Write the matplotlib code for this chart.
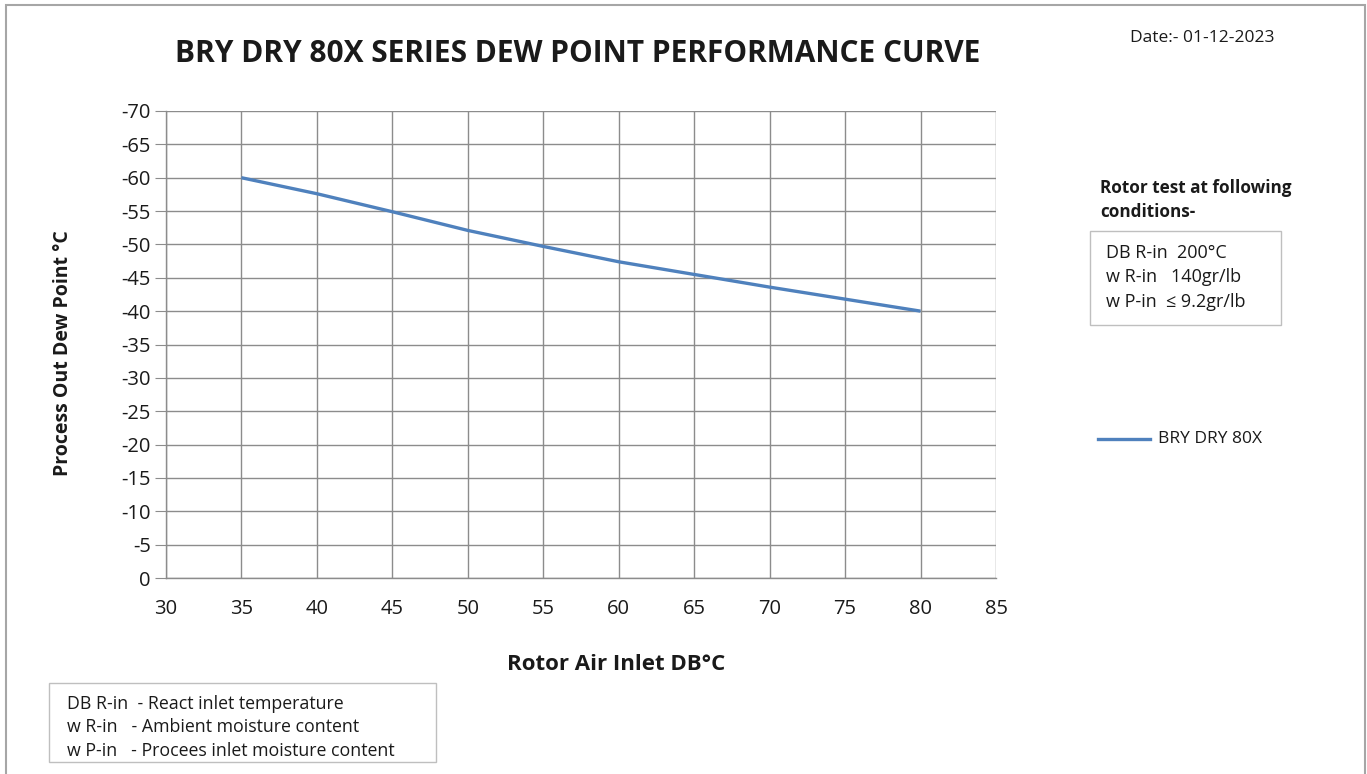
import matplotlib.pyplot as plt
from matplotlib.patches import Rectangle

# Data
inlet_temp = [35, 40, 45, 50, 55, 60, 65, 70, 75, 80]
dew_point = [-60, -57.6, -54.9, -52.1, -49.7, -47.4, -45.5, -43.6, -41.8, -40]
x_ticks = [30, 35, 40, 45, 50, 55, 60, 65, 70, 75, 80, 85]
y_ticks = [0, -5, -10, -15, -20, -25, -30, -35, -40, -45, -50, -55, -60, -65, -70]

plt.rcParams['font.family'] = ['Open Sans', 'DejaVu Sans']
plt.rcParams['axes.unicode_minus'] = False
plt.rcParams['text.color'] = '#1a1a1a'
plt.rcParams['xtick.labelcolor'] = '#1a1a1a'
plt.rcParams['ytick.labelcolor'] = '#1a1a1a'

W, H = 1367, 774
fig = plt.figure(figsize=(W / 100, H / 100), dpi=100)

# outer chart border
fig.patches.append(Rectangle((6 / W, -0.01), (1365 - 6) / W, 1 - 5 / H + 0.01,
                             transform=fig.transFigure, fill=False,
                             edgecolor='#a6a6a6', linewidth=1.5))

ax = fig.add_axes([166 / W, 1 - 578 / H, (996 - 166) / W, (578 - 111) / H])
ax.plot(inlet_temp, dew_point, color='#4f81bd', linewidth=2.4, label='BRY DRY 80X',
        solid_capstyle='butt')
ax.set_xlim(30, 85)
ax.set_ylim(0, -70)
ax.set_xticks(x_ticks)
ax.set_yticks(y_ticks)
ax.grid(True, color='#8c8c8c', linewidth=1.0)
ax.set_axisbelow(True)
for s in ['top', 'right']:
    ax.spines[s].set_visible(False)
for s in ['left', 'bottom']:
    ax.spines[s].set_color('#8c8c8c')
    ax.spines[s].set_linewidth(1.0)
ax.tick_params(axis='y', length=8, color='#8c8c8c', labelsize=14.5, pad=3)
ax.tick_params(axis='x', length=0, labelsize=14.5, pad=15)

fig.text(616 / W, 1 - 665 / H, 'Rotor Air Inlet DB°C', ha='center', va='center',
         fontsize=16, fontweight='bold')
fig.text(63 / W, 1 - 353 / H, 'Process Out Dew Point °C', ha='center', va='center',
         rotation=90, fontsize=14, fontweight='bold')

fig.text(578 / W, 1 - 54 / H, 'BRY DRY 80X SERIES DEW POINT PERFORMANCE CURVE',
         ha='center', va='center', fontsize=21.5, fontweight='bold')
fig.text(1202 / W, 1 - 38 / H, 'Date:- 01-12-2023', ha='center', va='center', fontsize=12.5)

# test conditions
fig.text(1100 / W, 1 - 188 / H, 'Rotor test at following', ha='left', va='center',
         fontsize=12.3, fontweight='bold')
fig.text(1100 / W, 1 - 212 / H, 'conditions-', ha='left', va='center',
         fontsize=12.3, fontweight='bold')
fig.patches.append(Rectangle((1090 / W, 1 - 325 / H), (1281 - 1090) / W, (325 - 231) / H,
                             transform=fig.transFigure, fill=False,
                             edgecolor='#bfbfbf', linewidth=1.0))
cond_lines = ['DB R-in  200°C', 'w R-in   140gr/lb', 'w P-in  ≤ 9.2gr/lb']
for i, t in enumerate(cond_lines):
    fig.text(1106 / W, 1 - (253 + 24.5 * i) / H, t, ha='left', va='center', fontsize=13)

# legend
fig.add_artist(plt.Line2D([1098 / W, 1150 / W], [1 - 439 / H, 1 - 439 / H],
                          color='#4f81bd', linewidth=2.4, transform=fig.transFigure))
fig.text(1158 / W, 1 - 439 / H, 'BRY DRY 80X', ha='left', va='center', fontsize=12.5)

# abbreviation box
fig.patches.append(Rectangle((49 / W, 1 - 762 / H), (436 - 49) / W, (762 - 683) / H,
                             transform=fig.transFigure, fill=False,
                             edgecolor='#bfbfbf', linewidth=1.0))
abbr_lines = ['DB R-in  - React inlet temperature',
              'w R-in   - Ambient moisture content',
              'w P-in   - Procees inlet moisture content']
for i, t in enumerate(abbr_lines):
    fig.text(67 / W, 1 - (704 + 23.5 * i) / H, t, ha='left', va='center', fontsize=12.8)

fig.savefig('out.png', dpi=100)
